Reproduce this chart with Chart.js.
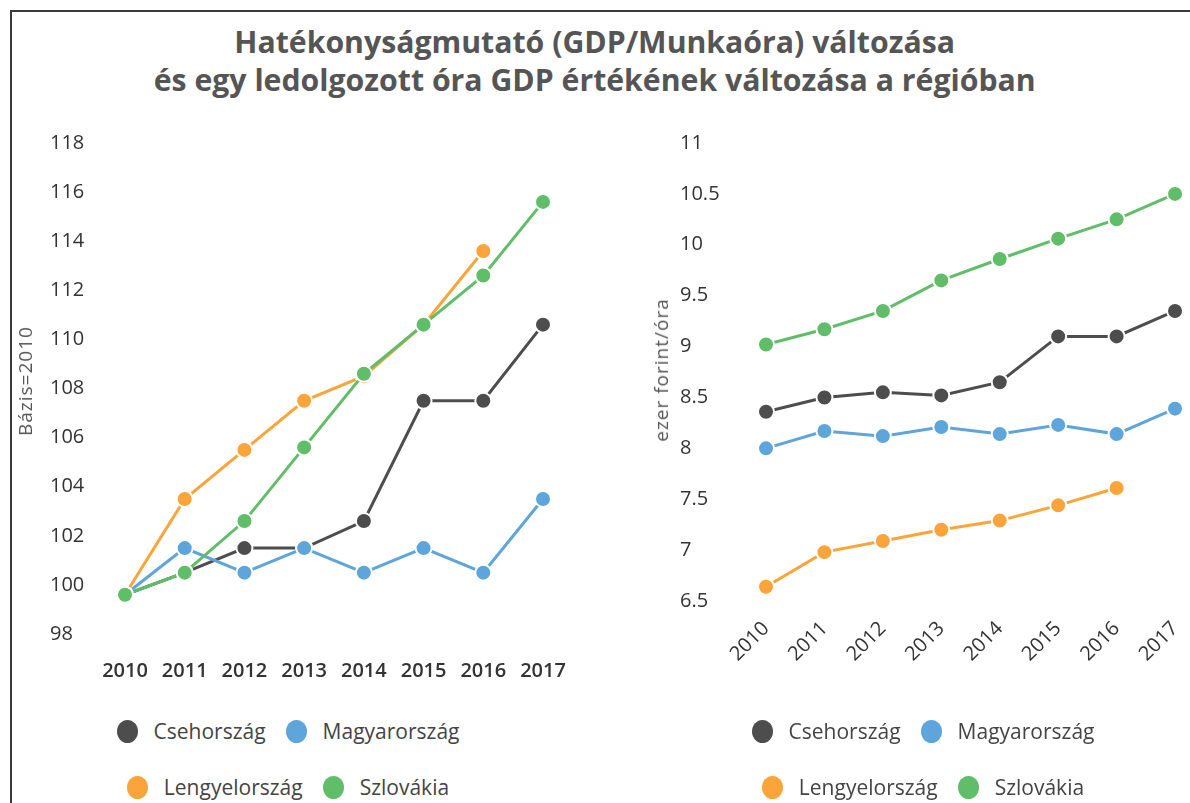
<!DOCTYPE html>
<html>
<head>
<meta charset="utf-8">
<script src="https://cdn.jsdelivr.net/npm/chart.js@4.4.1/dist/chart.umd.min.js"></script>
<style>
  html, body { margin: 0; padding: 0; background: #fff; overflow: hidden; }
  body { width: 1190px; height: 803px; position: relative; font-family: "Open Sans", sans-serif; }
  #frame { position: absolute; left: 10px; top: 10px; width: 1300px; height: 900px;
           border-left: 2px solid #3a3a3a; border-top: 2px solid #3a3a3a; }
  #title { position: absolute; left: 0; top: 23px; width: 1190px; text-align: center;
           color: #555; font-weight: 700; font-size: 30px; line-height: 38px; }
  #title span { display: inline-block; white-space: nowrap; transform-origin: center; }
  canvas { position: absolute; }
  .ytitle { position: absolute; color: #555; font-size: 19px; letter-spacing: 1px; white-space: nowrap;
            transform: translate(-50%, -50%) rotate(-90deg); }
  .legend { position: absolute; width: 560px; color: #444; font-size: 21px; }
  .row { display: flex; justify-content: center; align-items: center; height: 30px; white-space: nowrap; }
  .dot { width: 21px; height: 23px; border-radius: 50%; margin-right: 16px; }
  .lbl { margin-right: 20px; }
  .lbl:last-child { margin-right: 0; }
</style>
</head>
<body>
<div id="frame"></div>
<div id="title">
  <span id="t1">Hatékonyságmutató (GDP/Munkaóra) változása</span><br>
  <span id="t2">és egy ledolgozott óra GDP értékének változása a régióban</span>
</div>

<canvas id="left" width="590" height="559" style="left:0;top:120px;width:590px;height:559px"></canvas>
<canvas id="right" width="600" height="600" style="left:600px;top:120px;width:600px;height:600px"></canvas>

<div class="ytitle" style="left:25px;top:381px">Bázis=2010</div>
<div class="ytitle" style="left:661px;top:370px">ezer forint/óra</div>

<div class="legend" id="legLeft" style="left:8px;top:716px"></div>
<div class="legend" id="legRight" style="left:643px;top:716px"></div>

<script>
const years = ['2010', '2011', '2012', '2013', '2014', '2015', '2016', '2017'];
const countries = ['Csehország', 'Magyarország', 'Lengyelország', 'Szlovákia'];
const colors = ['#4D4D4D', '#5DA5DA', '#FAA43A', '#60BD68'];

// hatékonyságmutató, bázis = 2010
const cseIndex = [99.6, 100.5, 101.5, 101.5, 102.6, 107.5, 107.5, 110.6];
const magIndex = [99.6, 101.5, 100.5, 101.5, 100.5, 101.5, 100.5, 103.5];
const lenIndex = [99.6, 103.5, 105.5, 107.5, 108.5, 110.6, 113.6, null];
const szlIndex = [99.6, 100.5, 102.6, 105.6, 108.6, 110.6, 112.6, 115.6];

// egy ledolgozott óra GDP értéke, ezer forint/óra
const cseGdp = [8.36, 8.50, 8.55, 8.52, 8.65, 9.10, 9.10, 9.35];
const magGdp = [8.00, 8.17, 8.12, 8.21, 8.14, 8.23, 8.14, 8.39];
const lenGdp = [6.64, 6.98, 7.09, 7.20, 7.29, 7.44, 7.61, null];
const szlGdp = [9.02, 9.17, 9.35, 9.65, 9.86, 10.06, 10.25, 10.50];

const leftRange = { min: 98, max: 118, step: 2 };
const rightRange = { min: 6.5, max: 11, step: 0.5 };

// title squeezed to the narrow look of the original
const t2 = document.getElementById('t2');
const sx = 882 / t2.getBoundingClientRect().width;
document.querySelectorAll('#title span').forEach(s => s.style.transform = 'scaleX(' + sx + ')');

function makeDatasets(series) {
    return series.map((vals, i) => ({
        label: countries[i],
        data: vals,
        borderColor: colors[i],
        backgroundColor: colors[i],
        pointBackgroundColor: colors[i],
        pointBorderColor: '#fff',
        pointBorderWidth: 2,
        pointRadius: 8,
        borderWidth: 3,
        tension: 0,
        clip: false,
        order: series.length - i
    }));
}

const tickColor = '#333';

new Chart(document.getElementById('left'), {
    type: 'line',
    data: { labels: years, datasets: makeDatasets([cseIndex, magIndex, lenIndex, szlIndex]) },
    options: {
        responsive: false,
        animation: false,
        events: [],
        layout: { padding: { left: 50, top: 23, right: 47, bottom: 0 } },
        plugins: { legend: { display: false }, tooltip: { enabled: false } },
        scales: {
            x: {
                grid: { display: false },
                border: { display: false },
                ticks: { color: tickColor, font: { family: 'Open Sans', size: 20, weight: '600' },
                         padding: 17, maxRotation: 0, autoSkip: false },
                afterFit(s) { s.height = 45; }
            },
            y: {
                min: leftRange.min, max: leftRange.max,
                grid: { display: false },
                border: { display: false },
                ticks: { stepSize: leftRange.step, crossAlign: 'far', color: tickColor,
                         font: { family: 'Open Sans', size: 20 } },
                afterFit(s) { s.width = 75; }
            }
        }
    }
});

new Chart(document.getElementById('right'), {
    type: 'line',
    data: { labels: years, datasets: makeDatasets([cseGdp, magGdp, lenGdp, szlGdp]) },
    options: {
        responsive: false,
        animation: false,
        events: [],
        layout: { padding: { left: 80, top: 23, right: 20, bottom: 0 } },
        plugins: { legend: { display: false }, tooltip: { enabled: false } },
        scales: {
            x: {
                grid: { display: false },
                border: { display: false },
                ticks: { color: tickColor, font: { family: 'Open Sans', size: 20 },
                         padding: 8, minRotation: 45, maxRotation: 45, autoSkip: false },
                afterFit(s) { s.height = 119; }
            },
            y: {
                min: rightRange.min, max: rightRange.max,
                grid: { display: false },
                border: { display: false },
                ticks: { stepSize: rightRange.step, crossAlign: 'far', color: tickColor,
                         font: { family: 'Open Sans', size: 20 },
                         callback: v => String(v) },
                afterFit(s) { s.width = 86; }
            }
        }
    }
});

// legends, two entries per row
function buildLegend(el) {
    for (let r = 0; r < 2; r++) {
        const row = document.createElement('div');
        row.className = 'row';
        row.style.marginBottom = r === 0 ? '26px' : '0';
        for (let c = 0; c < 2; c++) {
            const i = r * 2 + c;
            const dot = document.createElement('span');
            dot.className = 'dot';
            dot.style.background = colors[i];
            const lbl = document.createElement('span');
            lbl.className = 'lbl';
            lbl.textContent = countries[i];
            row.appendChild(dot);
            row.appendChild(lbl);
        }
        el.appendChild(row);
    }
}
buildLegend(document.getElementById('legLeft'));
buildLegend(document.getElementById('legRight'));
</script>
</body>
</html>
